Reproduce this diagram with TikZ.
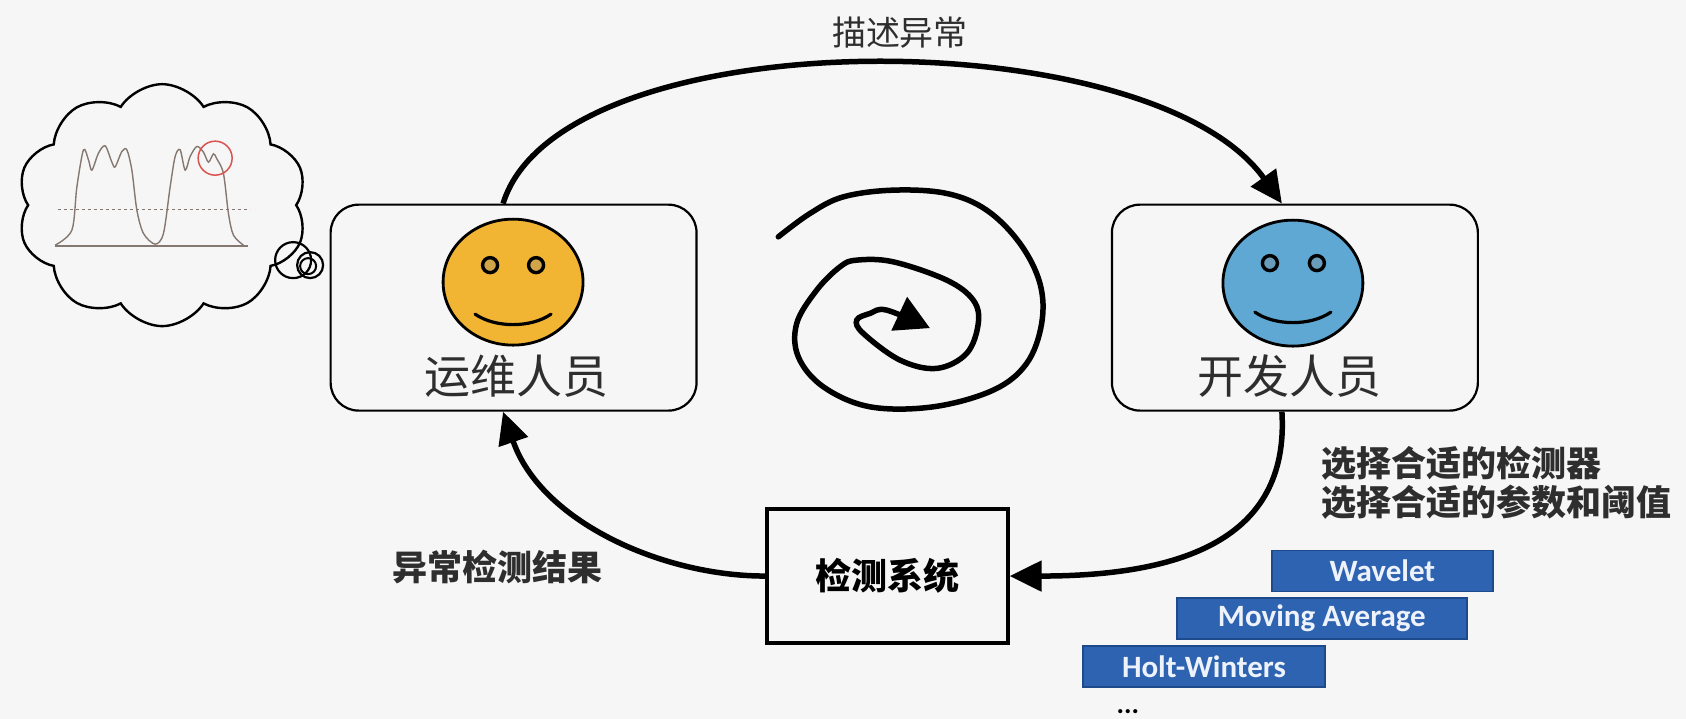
\documentclass[tikz,border=0pt]{standalone}
\usepackage{fontspec}
\setsansfont{Carlito}
\newfontfamily\cjk{Noto Sans CJK SC}
\usetikzlibrary{arrows.meta,shapes.symbols}
\definecolor{bgcol}{HTML}{F6F6F6}
\definecolor{textgray}{HTML}{2E2E2E}
\definecolor{faceyellow}{HTML}{F2B533}
\definecolor{faceblue}{HTML}{5EA8D3}
\definecolor{algoblue}{HTML}{2D63B1}
\definecolor{algoedge}{HTML}{1D4A8A}
\definecolor{algotext}{HTML}{EEF2FA}
\definecolor{chartline}{HTML}{857870}
\definecolor{spotred}{HTML}{D9534F}

\begin{document}
\begin{tikzpicture}[scale=1.000000,x=1pt,y=1pt,
  rolebox/.style={draw=black,line width=2.2pt,rounded corners=28pt,minimum width=366pt,minimum height=206pt,inner sep=0pt},
  facestroke/.style={draw=black,line width=2.8pt},
  flow/.style={line width=5.5pt,-{Triangle[length=32pt,width=30pt]}},
  algobox/.style={draw=algoedge,fill=algoblue,line width=1.5pt,minimum height=41pt,inner sep=0pt,text=algotext,font=\sffamily\bfseries\fontsize{31}{31}\selectfont},
  cnlabel/.style={text=textgray,font=\cjk\bfseries\fontsize{35}{35}\selectfont}]
\filldraw[color=bgcol] (0.000000, 0.000000) rectangle (1686.000000, 718.000000);
\useasboundingbox (0.000000, 0.000000) rectangle (1686.000000, 718.000000);
% Drawing thought cloud
\node[cloud,draw,cloud puffs=10,cloud puff arc=115,cloud ignores aspect,minimum width=290pt,minimum height=242pt,line width=2.4pt] (thought) at (162.000000, 513.000000) {};
\draw[line width=2.2pt] (293.000000, 458.000000) circle(18.000000pt);
\draw[line width=2.2pt] (310.000000, 453.000000) circle(13.000000pt);
\draw[line width=2.0pt] (308.000000, 452.000000) circle(8.000000pt);
% Chart inside the cloud
\draw[color=chartline,line width=0.8pt,dashed] (58.000000, 509.000000) -- (250.000000, 509.000000);
\draw[color=chartline,line width=1.8pt] (55.000000, 472.000000) -- (248.000000, 472.000000);
\draw[color=chartline,line width=1.4pt] plot[smooth,tension=0.5] coordinates {
  (55.0,473.0) (71.7,488.0) (76.7,531.3) (83.3,568.3) (88.3,558.3) (91.7,548.0)
  (98.3,565.0) (105.0,572.3) (111.7,556.0) (115.0,551.3) (121.7,566.7) (126.7,568.3)
  (131.7,548.0) (136.7,508.0) (143.3,484.7) (155.0,474.0) (163.3,484.7) (170.0,531.3)
  (175.0,561.7) (180.0,568.3) (185.0,548.0) (190.0,561.7) (196.7,571.7) (203.3,566.0)
  (208.3,556.0) (213.3,564.3) (216.7,559.3) (223.3,544.7) (228.3,504.7) (233.3,483.0)
  (243.3,473.0)};
\draw[color=spotred,line width=1.5pt] (215.000000, 560.000000) circle(17.000000pt);
% Drawing role boxes
% Box 1: ops
\node[rolebox] (ops) at (513.500000, 410.500000) {};
\filldraw[facestroke,fill=faceyellow] (513.000000, 436.000000) ellipse (70.000000pt and 63.000000pt);
\filldraw[facestroke,line width=3.4pt,fill=faceyellow!70!gray] (490.000000, 453.000000) circle(7.500000pt);
\filldraw[facestroke,line width=3.4pt,fill=faceyellow!70!gray] (536.000000, 453.000000) circle(7.500000pt);
\draw[line width=3.2pt,line cap=round] (475.000000, 404.000000) .. controls (495.000000, 390.000000) and (531.000000, 390.000000) .. (551.000000, 404.000000);
\node[text=textgray,font=\cjk\fontsize{46}{46}\selectfont] (opslabel) at (516.000000, 342.000000) {运维人员};
% Box 2: dev
\node[rolebox] (dev) at (1295.000000, 410.500000) {};
\filldraw[facestroke,fill=faceblue] (1293.000000, 435.000000) ellipse (70.000000pt and 63.000000pt);
\filldraw[facestroke,line width=3.4pt,fill=faceblue!70!gray] (1270.000000, 455.000000) circle(7.500000pt);
\filldraw[facestroke,line width=3.4pt,fill=faceblue!70!gray] (1317.000000, 455.000000) circle(7.500000pt);
\draw[line width=3.2pt,line cap=round] (1255.000000, 406.000000) .. controls (1275.000000, 392.000000) and (1311.000000, 392.000000) .. (1331.000000, 406.000000);
\node[text=textgray,font=\cjk\fontsize{46}{46}\selectfont] (devlabel) at (1290.000000, 342.000000) {开发人员};
% Box 3: detection system
\node[draw=black,line width=3.5pt,minimum width=241pt,minimum height=134pt,font=\cjk\bfseries\fontsize{36}{36}\selectfont,text=black] (detsys) at (887.500000, 142.000000) {检测系统};
% Done with boxes; drawing arrows
\draw[flow] ([xshift=-10.5pt]ops.north) .. controls (560.000000, 700.000000) and (1150.000000, 700.000000) .. ([xshift=-13pt]dev.north);
\draw[flow] ([xshift=-13pt]dev.south) .. controls (1290.000000, 178.000000) and (1180.000000, 142.000000) .. (detsys.east);
\draw[flow] (detsys.west) .. controls (660.000000, 142.000000) and (540.000000, 198.000000) .. ([xshift=-10.5pt]ops.south);
% Spiral in the middle
\draw[line width=5.5pt,line cap=round,-{Triangle[length=34pt,width=36pt]}] plot[smooth,tension=0.6] coordinates {
  (778.3,481.3) (810.0,504.7) (843.3,521.3) (893.3,528.0) (946.7,524.7) (986.7,508.0)
  (1020.0,474.7) (1040.0,434.7) (1041.7,394.7) (1026.7,354.7) (993.3,328.0) (933.3,311.3)
  (870.0,311.3) (823.3,331.3) (798.3,361.3) (796.7,394.7) (816.7,428.0) (840.0,451.3)
  (856.7,458.0) (893.3,456.3) (946.7,438.0) (973.3,418.0) (978.3,394.7) (966.7,364.7)
  (936.7,349.7) (900.0,358.0) (863.3,384.7) (856.7,398.0) (870.0,404.7) (886.7,408.0)
  (930.0,390.0)};
% Done with arrows; drawing labels
\node[text=textgray,font=\cjk\fontsize{34}{34}\selectfont] (describe) at (900.000000, 686.000000) {描述异常};
\node[cnlabel] (result) at (497.000000, 151.000000) {异常检测结果};
\node[cnlabel,anchor=west] (pickone) at (1318.000000, 255.000000) {选择合适的检测器};
\node[cnlabel,anchor=west] (picktwo) at (1318.000000, 216.000000) {选择合适的参数和阈值};
% Algorithm boxes
\node[algobox,minimum width=221pt] (wavelet) at (1382.500000, 147.000000) {Wavelet};
\node[algobox,minimum width=290pt] (movavg) at (1322.000000, 99.500000) {Moving Average};
\node[algobox,minimum width=242pt] (holt) at (1204.000000, 51.500000) {Holt-Winters};
\node[anchor=base,inner sep=1pt,font=\sffamily\bfseries\fontsize{28}{28}\selectfont] (more) at (1128.000000, 5.000000) {...};
% Done with labels
\end{tikzpicture}
\end{document}
